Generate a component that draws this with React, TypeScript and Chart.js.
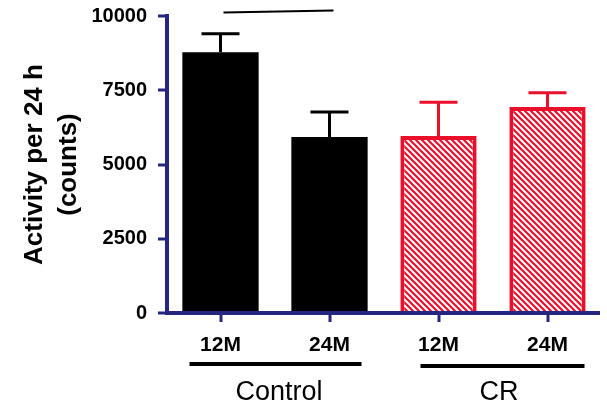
import React, { useEffect, useRef } from "react";
import { Chart, registerables } from "chart.js";

Chart.register(...registerables);

// ---- data ----
const categories = ["12M", "24M", "12M", "24M"];
const means = [8780, 5930, 5960, 6935];
const errorTops = [9400, 6770, 7100, 7420];
const groups = ["Control", "CR"];
const groupMembers = [
  [0, 1],
  [2, 3],
];
const sigBracket = [10120, 10185]; // y values at the two ends of the line over categories 0 and 1
const yTicks = [0, 2500, 5000, 7500, 10000];
const yMin = 0;
const yMax = 10000;
const yStep = 2500;

// ---- styles ----
const BLACK = "#000000";
const AXIS = "#262680";
const RED = "#EC0F2C";
const FONT = "'Liberation Sans', Arial, Helvetica, sans-serif";
const groupIsRed = [false, false, true, true];

function makeHatch(): CanvasPattern | string {
  const size = 6;
  const c = document.createElement("canvas");
  c.width = size;
  c.height = size;
  const g = c.getContext("2d");
  if (!g) return RED;
  g.fillStyle = "#ffffff";
  g.fillRect(0, 0, size, size);
  g.strokeStyle = RED;
  g.lineWidth = 2.2;
  g.beginPath();
  g.moveTo(-1, -1);
  g.lineTo(size + 1, size + 1);
  g.moveTo(-2, size - 2);
  g.lineTo(2, size + 2);
  g.moveTo(size - 2, -2);
  g.lineTo(size + 2, 2);
  g.stroke();
  const p = g.createPattern(c, "repeat");
  return p || RED;
}

const overlayPlugin = {
  id: "overlay",
  afterDraw(chart: any) {
    const ctx = chart.ctx as CanvasRenderingContext2D;
    const xs = chart.scales.x;
    const ys = chart.scales.y;
    const area = chart.chartArea;
    const meta = chart.getDatasetMeta(0);
    ctx.save();

    // axes, from the scales
    const axisX = Math.round(area.left) + 1;
    const y0 = Math.round(ys.getPixelForValue(yMin));
    const yTop = Math.round(ys.getPixelForValue(yMax));
    ctx.fillStyle = AXIS;
    ctx.fillRect(axisX - 2, yTop - 2, 4, y0 - yTop + 4);
    ctx.fillRect(axisX - 2, y0 - 2, Math.round(area.right) - axisX, 4);
    yTicks.forEach((t) => {
      const py = Math.round(ys.getPixelForValue(t));
      ctx.fillRect(axisX - 9, py - 1.5, 9, 3);
    });
    categories.forEach((_, i) => {
      const px = Math.round(xs.getPixelForValue(i));
      ctx.fillRect(px - 1.5, y0, 3, 9);
    });

    // error bars
    means.forEach((m, i) => {
      const el = meta.data[i];
      const cx = el.x;
      const yErr = ys.getPixelForValue(errorTops[i]);
      const yBar = ys.getPixelForValue(m);
      ctx.strokeStyle = groupIsRed[i] ? RED : BLACK;
      ctx.lineWidth = 3;
      ctx.beginPath();
      ctx.moveTo(cx, yBar);
      ctx.lineTo(cx, yErr);
      ctx.moveTo(cx - 19, yErr);
      ctx.lineTo(cx + 19, yErr);
      ctx.stroke();
    });

    // significance line
    ctx.strokeStyle = BLACK;
    ctx.lineWidth = 2;
    ctx.beginPath();
    ctx.moveTo(xs.getPixelForValue(0) + 3, ys.getPixelForValue(sigBracket[0]));
    ctx.lineTo(xs.getPixelForValue(1) + 4, ys.getPixelForValue(sigBracket[1]));
    ctx.stroke();

    // group underlines and labels
    const bottom = y0;
    const lineOffsets = [
      [-31, 32, 51],
      [-18, 37, 53],
    ];
    groups.forEach((name, gi) => {
      const [a, b] = groupMembers[gi];
      const xa = xs.getPixelForValue(a);
      const xb = xs.getPixelForValue(b);
      const [l, r, dy] = lineOffsets[gi];
      ctx.strokeStyle = BLACK;
      ctx.lineWidth = 4;
      ctx.beginPath();
      ctx.moveTo(xa + l, bottom + dy);
      ctx.lineTo(xb + r, bottom + dy);
      ctx.stroke();
      ctx.fillStyle = BLACK;
      ctx.font = `normal 27px ${FONT}`;
      ctx.textAlign = "center";
      ctx.textBaseline = "middle";
      ctx.fillText(name, (xa + xb) / 2 + (gi === 0 ? 4 : 6), bottom + 80);
    });
    ctx.restore();
  },
};

export default function App() {
  const ref = useRef<HTMLCanvasElement | null>(null);

  useEffect(() => {
    if (!ref.current) return;
    const hatch = makeHatch();
    const chart = new Chart(ref.current, {
      type: "bar",
      data: {
        labels: categories,
        datasets: [
          {
            data: means,
            backgroundColor: groupIsRed.map((r) => (r ? hatch : BLACK)) as any,
            borderColor: groupIsRed.map((r) => (r ? RED : BLACK)),
            borderWidth: groupIsRed.map((r) => (r ? 4 : 0)),
            borderSkipped: "bottom",
            barPercentage: 0.7,
            categoryPercentage: 1,
          },
        ],
      },
      options: {
        animation: false,
        responsive: true,
        maintainAspectRatio: false,
        layout: { padding: { top: 16, left: 18, right: 5, bottom: 0 } },
        plugins: {
          legend: { display: false },
          tooltip: { enabled: false },
        },
        scales: {
          x: {
            offset: true,
            grid: { display: false, drawTicks: true, tickLength: 8 },
            border: { display: false },
            ticks: {
              color: BLACK,
              font: { family: FONT, size: 21, weight: "bold" },
              padding: 12,
              maxRotation: 0,
              autoSkip: false,
            },
            afterFit(scale: any) {
              scale.height = 96;
            },
          },
          y: {
            min: yMin,
            max: yMax,
            grid: { display: false, drawTicks: true, tickLength: 7 },
            border: { display: false },
            ticks: {
              stepSize: yStep,
              color: BLACK,
              font: { family: FONT, size: 20, weight: "bold" },
              padding: 12,
              callback: (v: any) => String(v),
            },
            title: {
              display: true,
              text: ["Activity per 24 h", "(counts)"],
              color: BLACK,
              font: { family: FONT, size: 26, weight: "bold", lineHeight: 1.3 },
              padding: { top: 0, bottom: 0 },
            },
            afterFit(scale: any) {
              scale.width = 148;
              scale.paddingTop = 0;
              scale.paddingBottom = 0;
            },
          },
        },
      },
      plugins: [overlayPlugin],
    });
    return () => chart.destroy();
  }, []);

  return (
    <div style={{ position: "fixed", left: 0, top: 0, width: 607, height: 409, background: "#fff" }}>
      <canvas ref={ref} />
    </div>
  );
}
